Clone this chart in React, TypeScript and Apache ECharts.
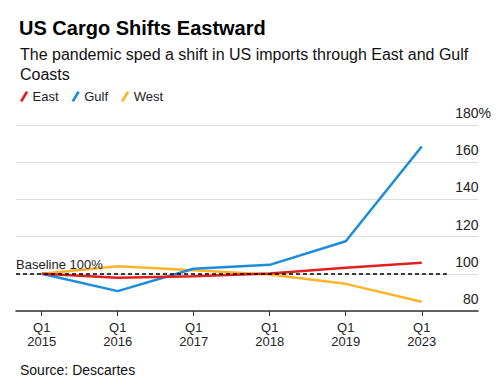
import React, { useEffect, useRef } from "react";
import * as echarts from "echarts";

const categories = ["Q1\n2015", "Q1\n2016", "Q1\n2017", "Q1\n2018", "Q1\n2019", "Q1\n2023"];
const east = [100, 97.9, 98.7, 100.2, 103.2, 105.9];
const gulf = [100, 90.7, 102.7, 104.8, 117.5, 168.4];
const west = [100, 104.1, 101.9, 99.6, 94.6, 85];
const yTicks = [80, 100, 120, 140, 160, 180];
const baseline = 100;

const FONT = "Liberation Sans, Arial, sans-serif";
const toPairs = (arr: number[]) => arr.map((v, i) => [i, v]);

export default function App() {
  const ref = useRef<HTMLDivElement>(null);
  useEffect(() => {
    const chart = echarts.init(ref.current!, null, { renderer: "svg" });
    const xMin = -0.338;
    const xMax = 5.74;
    const legendIcon = "path://M0,10 L6,0 L8.5,1.4 L2.5,11.4 Z";
    chart.setOption({
      animation: false,
      textStyle: { fontFamily: FONT },
      title: [
        {
          text: "US Cargo Shifts Eastward",
          left: 14,
          top: 13,
          textStyle: { fontSize: 20, fontWeight: "bold", color: "#000", fontFamily: FONT },
        },
        {
          text: "The pandemic sped a shift in US imports through East and Gulf\nCoasts",
          left: 15,
          top: 39,
          textStyle: { fontSize: 16, fontWeight: "normal", color: "#111", lineHeight: 20, fontFamily: FONT },
        },
        {
          text: "Source: Descartes",
          left: 15,
          top: 358,
          textStyle: { fontSize: 14, fontWeight: "normal", color: "#111", fontFamily: FONT },
        },
      ],
      legend: {
        left: 15,
        top: 85,
        itemWidth: 9,
        itemHeight: 11,
        itemGap: 13,
        icon: legendIcon,
        data: ["East", "Gulf", "West"],
        textStyle: { fontSize: 13, color: "#222", fontFamily: FONT, padding: [0, 0, 0, -1] },
      },
      grid: { left: 16, right: 22, top: 125, bottom: 79 },
      xAxis: {
        type: "value",
        min: xMin,
        max: xMax,
        axisLine: { show: true, lineStyle: { color: "#333", width: 1.5 } },
        axisTick: { show: true, customValues: categories.map((_, i) => i), length: 5, lineStyle: { color: "#333", width: 1 } },
        axisLabel: {
          customValues: categories.map((_, i) => i),
          formatter: (v: number) => categories[Math.round(v)] ?? "",
          fontSize: 13,
          lineHeight: 14,
          color: "#222",
          margin: 9,
          fontFamily: FONT,
        },
        splitLine: { show: false },
      },
      yAxis: {
        type: "value",
        position: "right",
        min: 80,
        max: 180,
        interval: 20,
        axisLine: { show: false },
        axisTick: { show: false },
        splitLine: { show: true, lineStyle: { color: "#dcdcdc", width: 1 } },
        axisLabel: {
          inside: true,
          margin: -13,
          verticalAlign: "bottom",
          padding: [0, 0, 5, 0],
          formatter: (v: number) =>
            v === yTicks[yTicks.length - 1] ? `{n|${v}%}` : `{n|${v}}{h|%}`,
          rich: {
            n: { fontSize: 14, color: "#222", fontFamily: FONT },
            h: { fontSize: 14, color: "rgba(0,0,0,0)", fontFamily: FONT },
          },
        },
      },
      series: [
        {
          name: "West",
          type: "line",
          data: toPairs(west),
          symbol: "none",
          z: 2,
          lineStyle: { width: 2.5, color: "#fdb42a" },
          itemStyle: { color: "#fdb42a" },
        },
        {
          name: "Gulf",
          type: "line",
          data: toPairs(gulf),
          symbol: "none",
          z: 3,
          lineStyle: { width: 2.5, color: "#1b8cdc" },
          itemStyle: { color: "#1b8cdc" },
        },
        {
          name: "East",
          type: "line",
          data: toPairs(east),
          symbol: "none",
          z: 4,
          lineStyle: { width: 2.5, color: "#e0201e" },
          itemStyle: { color: "#e0201e" },
        },
        {
          name: "baseline",
          type: "line",
          data: [],
          z: 6,
          markLine: {
            silent: true,
            symbol: "none",
            z: 6,
            lineStyle: { color: "#000", type: [4, 3], width: 1.5 },
            label: {
              show: true,
              position: "insideStartTop",
              formatter: "Baseline 100%",
              color: "#222",
              fontSize: 13,
              distance: [0, 3],
              fontFamily: FONT,
            },
            data: [[{ coord: [xMin, baseline] }, { coord: [5.33, baseline] }]],
          },
        },
      ],
    });
    return () => chart.dispose();
  }, []);
  return (
    <div
      ref={ref}
      style={{ position: "absolute", left: 0, top: 0, width: 500, height: 390, background: "#fff" }}
    />
  );
}
